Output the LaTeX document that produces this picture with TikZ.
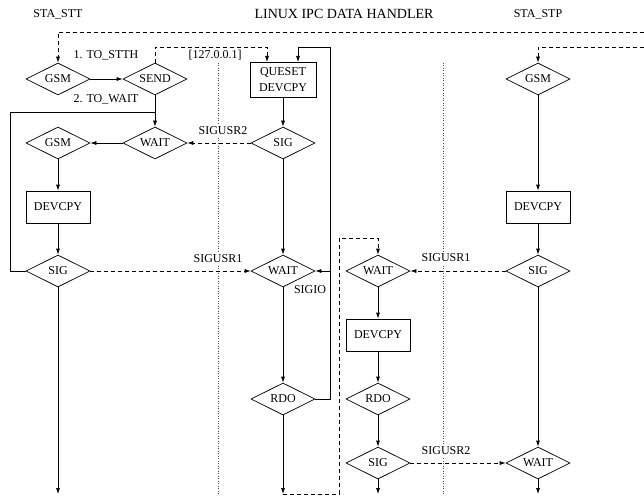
\documentclass[tikz,border=0pt]{standalone}
\usepackage{fontspec}
\setmainfont{Liberation Serif}
\usetikzlibrary{shapes.geometric,arrows.meta}
\begin{document}
\begin{tikzpicture}[x=1pt,y=-1pt,
  lbl/.style={font=\fontsize{12}{16}\selectfont},
  ttl/.style={font=\fontsize{14}{16}\selectfont},
  dia/.style={draw, diamond, aspect=2, inner sep=0pt, minimum width=64pt, minimum height=32pt, line width=0.7pt, lbl},
  box/.style={draw, rectangle, minimum width=64pt, minimum height=32pt, inner sep=0pt, line width=0.7pt, lbl},
  flow/.style={-{Latex[length=6pt,width=4pt]}, line width=0.7pt},
  plain/.style={line width=0.7pt},
  sigline/.style={flow, dash pattern=on 4pt off 3pt},
  guide/.style={line width=0.5pt, dash pattern=on 1pt off 1.5pt, black!70},
  tag/.style={lbl, fill=white, inner sep=2pt}]
\useasboundingbox (0,0) rectangle (644,497);
% guide lines
\coordinate (gAt) at (218,63); \coordinate (gAb) at (218,494);
\coordinate (gBt) at (443,63); \coordinate (gBb) at (443,494);
\draw[guide] (gAt) -- (gAb);
\draw[guide] (gBt) -- (gBb);
% titles
\node[lbl] (hstt) at (58,14) {STA\_STT};
\node[ttl] (htitle) at (344,14) {LINUX IPC DATA HANDLER};
\node[lbl] (hstp) at (538,14) {STA\_STP};
% nodes
\node[dia] (gsmA) at (58,79) {GSM};
\node[dia] (send) at (155,79) {SEND};
\node[box, minimum width=66pt, minimum height=35pt, align=center] (queset) at (283,79.5) {QUESET\\DEVCPY};
\node[dia] (gsmC) at (538,79) {GSM};
\node[dia] (gsmB) at (58,143) {GSM};
\node[dia] (waitA) at (155,143) {WAIT};
\node[dia] (sigB) at (283,143) {SIG};
\node[box] (devA) at (58,207) {DEVCPY};
\node[box] (devC) at (538,207) {DEVCPY};
\node[dia] (sigA) at (58,271) {SIG};
\node[dia] (waitB) at (283,271) {WAIT};
\node[dia] (waitC) at (378,271) {WAIT};
\node[dia] (sigC) at (538,271) {SIG};
\node[box] (devB) at (378,335) {DEVCPY};
\node[dia] (rdoA) at (283,399) {RDO};
\node[dia] (rdoB) at (378,399) {RDO};
\node[dia] (sigD) at (378,463) {SIG};
\node[dia] (waitD) at (538,463) {WAIT};
% helper coordinates
\coordinate (topR) at (644,32);
\coordinate (topR2) at (644,47);
\coordinate (endA) at (58,494);
\coordinate (endB) at (283,494);
\coordinate (endC) at (378,494);
\coordinate (endD) at (538,494);
\coordinate (loopL) at (10,271);
\coordinate (loopJ) at (155,112);
\coordinate (sendUp) at (155,47);
\coordinate (qL) at (267,62);
\coordinate (qR) at (298,62);
\coordinate (rdoR) at (330,399);
\coordinate (rdoTop) at (330,47);
\coordinate (sigioJ) at (330,271);
\coordinate (dashB) at (339,494);
\coordinate (dashT) at (339,238);
% connectors
\draw[sigline] (topR) -| (gsmA.north);
\draw[sigline] (topR2) -| (gsmC.north);
\draw[flow] (gsmA.east) -- (send.west);
\draw[sigline] (send.north) |- (sendUp) -| (qL);
\draw[flow] (send.south) -- (waitA.north);
\draw[plain] (sigA.west) -- (loopL) |- (loopJ);
\draw[flow] (waitA.west) -- (gsmB.east);
\draw[flow] (gsmB.south) -- (devA.north);
\draw[flow] (devA.south) -- (sigA.north);
\draw[flow] (sigA.south) -- (endA);
\draw[flow] (queset.south) -- (sigB.north);
\draw[sigline] (sigB.west) -- (waitA.east);
\draw[flow] (sigB.south) -- (waitB.north);
\draw[sigline] (sigA.east) -- (waitB.west);
\draw[flow] (rdoA.east) -- (rdoR) -- (rdoTop) -| (qR);
\draw[flow] (sigioJ) -- (waitB.east);
\draw[flow] (waitB.south) -- (rdoA.north);
\draw[flow] (rdoA.south) -- (endB);
\draw[sigline] (endB) -- (dashB) -- (dashT) -| (waitC.north);
\draw[flow] (waitC.south) -- (devB.north);
\draw[flow] (devB.south) -- (rdoB.north);
\draw[flow] (rdoB.south) -- (sigD.north);
\draw[flow] (sigD.south) -- (endC);
\draw[flow] (gsmC.south) -- (devC.north);
\draw[flow] (devC.south) -- (sigC.north);
\draw[flow] (sigC.south) -- (waitD.north);
\draw[flow] (waitD.south) -- (endD);
\draw[sigline] (sigC.west) -- (waitC.east);
\draw[sigline] (sigD.east) -- (waitD.west);
% labels
\node[lbl] (l1) at (106,55) {1. TO\_STTH};
\node[lbl] (l2) at (106,99) {2. TO\_WAIT};
\node[lbl] (lip) at (215,55) {[127.0.0.1]};
\node[tag] (lu2a) at (223,131) {SIGUSR2};
\node[tag] (lu1a) at (218,259) {SIGUSR1};
\node[lbl] (lio) at (310,290) {SIGIO};
\node[tag] (lu1b) at (446,258) {SIGUSR1};
\node[tag] (lu2b) at (446,451) {SIGUSR2};
\end{tikzpicture}
\end{document}
